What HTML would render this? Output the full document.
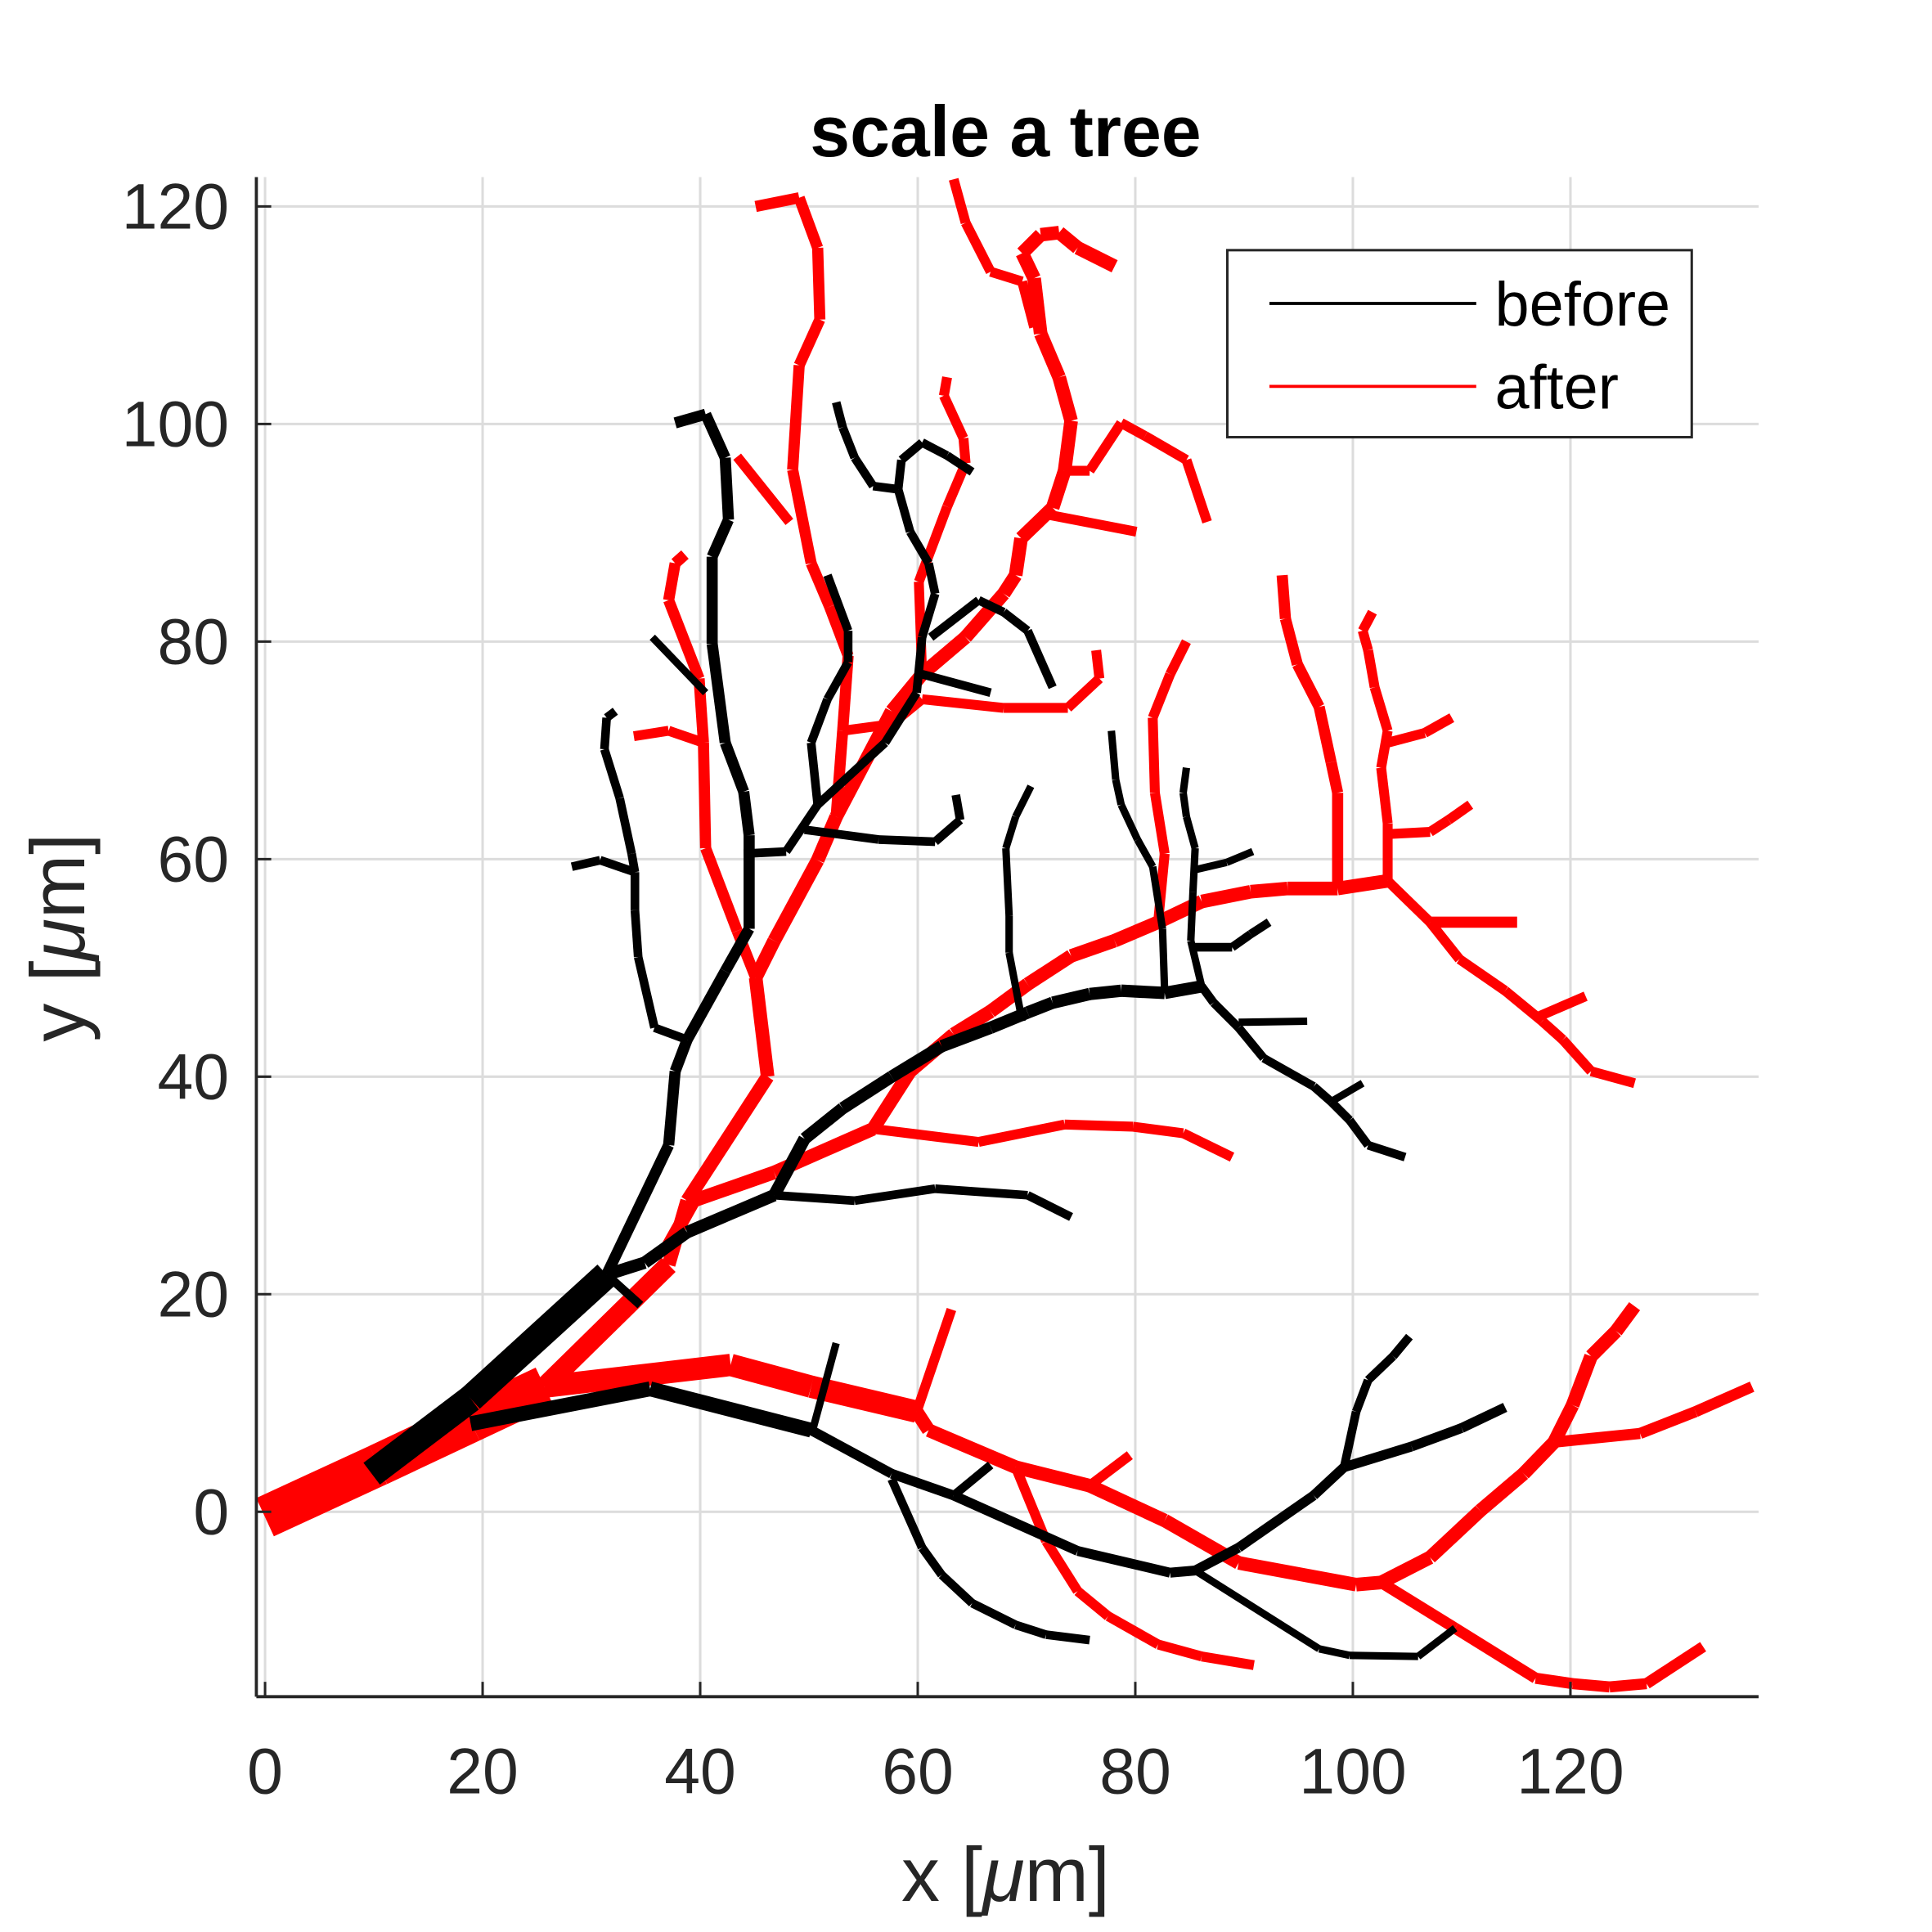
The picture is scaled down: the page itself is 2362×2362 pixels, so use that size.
<!DOCTYPE html>
<html><head><meta charset="utf-8"><style>
html,body{margin:0;padding:0;background:#fff;}
svg{display:block;}
text{font-family:"Liberation Sans",Arial,sans-serif;}
</style></head><body>
<svg id="chart" width="2362" height="2362" viewBox="0 0 1560 1560" xmlns="http://www.w3.org/2000/svg">
<rect x="0" y="0" width="1560" height="1560" fill="#fff"/>
<g id="grid"></g>
<g id="red"></g>
<g id="black"></g>
<g id="axes"></g>
<text x="812" y="126" text-anchor="middle" font-size="58" font-weight="bold" fill="#000">scale a tree</text>
<text x="812" y="1535" text-anchor="middle" font-size="62" fill="#262626">x [<tspan font-style="italic">μ</tspan>m]</text>
<text transform="translate(68,757) rotate(-90)" text-anchor="middle" font-size="62" fill="#262626">y [<tspan font-style="italic">μ</tspan>m]</text>
<g>
<rect x="991" y="202" width="375" height="151" fill="#fff" stroke="#262626" stroke-width="2"/>
<line x1="1025" y1="245" x2="1192" y2="245" stroke="#000" stroke-width="2.5"/>
<text x="1207" y="263" font-size="50" fill="#000">before</text>
<line x1="1025" y1="312" x2="1192" y2="312" stroke="#f00" stroke-width="2.5"/>
<text x="1207" y="330" font-size="50" fill="#000">after</text>
</g>
</svg>
<script>
const xTicks=[0,20,40,60,80,100,120];
const yTicks=[0,20,40,60,80,100,120];
const xDomain=[-0.8,137.3];
const yDomain=[-17.0,122.7];
const blackWidths=[22,9,7,7,6,7,7,7,7,10,7,7,7,6,6,6,7,7,6,6,6,12,8,6,7,7,7,6,7];
const blackBranches=[
[[9.8,3.5],[18.9,10.4],[31.4,21.8]],
[[31.4,21.8],[37.1,33.7],[37.7,40.5],[38.8,43.4],[42.3,49.7],[44.5,53.6],[44.5,62.2],[44.0,66.2],[42.3,70.7],[41.1,79.8],[41.1,87.8],[42.6,91.2],[42.3,96.9],[40.5,100.9],[37.7,100.1]],
[[38.8,43.4],[35.8,44.5],[34.3,51.0],[34.0,55.3],[34.0,58.8],[33.7,60.5],[32.6,65.6],[31.2,70.1],[31.4,73.0],[32.2,73.6]],
[[34.0,58.8],[30.8,59.9],[28.2,59.3]],
[[35.6,80.4],[40.5,75.3]],
[[44.0,60.5],[47.9,60.7],[50.8,65.0],[57.0,70.7],[59.9,75.3],[60.4,80.4],[61.6,84.4],[61.0,87.2],[59.3,90.1],[58.2,94.0],[55.9,94.3],[54.2,96.9],[53.1,99.7],[52.5,102.0]],
[[58.2,94.0],[58.5,96.7],[60.4,98.3],[62.7,97.1],[65.0,95.6]],
[[60.4,77.0],[66.7,75.3]],
[[61.2,80.4],[65.6,83.8],[67.9,82.7],[70.1,81.0],[72.4,75.8]],
[[31.4,21.8],[34.9,22.9],[38.8,25.7],[46.8,29.1],[49.6,34.3],[53.1,37.1],[57.6,40.0],[62.2,42.8],[66.7,44.5],[70.1,45.9],[72.4,46.8],[75.8,47.6],[78.7,47.9],[82.7,47.7],[86.1,48.3]],
[[50.8,65.0],[50.2,70.7],[51.7,74.7],[53.6,78.1],[53.6,81.0],[51.7,86.1]],
[[49.6,62.7],[56.4,61.8],[61.6,61.6],[63.9,63.6],[63.5,65.9]],
[[46.8,29.1],[54.2,28.6],[61.6,29.7],[70.1,29.1],[74.1,27.1]],
[[82.7,47.7],[82.5,53.6],[81.6,59.3],[80.2,61.8],[78.7,65.0],[78.2,67.3],[77.8,71.8]],
[[86.1,48.3],[85.1,52.5],[85.3,57.0],[85.5,61.0],[84.7,63.9],[84.4,66.1],[84.7,68.4]],
[[85.4,59.0],[88.4,59.7],[90.8,60.7]],
[[85.1,51.9],[88.9,51.9],[90.6,53.1],[92.3,54.2]],
[[86.1,48.3],[87.2,46.8],[89.5,44.5],[91.8,41.7],[96.4,39.1],[98.0,37.7],[99.7,36.0],[101.4,33.7],[104.8,32.6]],
[[89.5,45.0],[95.8,45.1]],
[[98.0,37.7],[100.9,39.4]],
[[69.6,45.1],[68.4,51.4],[68.4,54.8],[68.1,61.0],[69.0,63.9],[70.4,66.7]],
[[18.9,8.1],[35.4,11.3],[50.2,7.5]],
[[50.2,7.5],[57.6,3.5],[63.3,1.5],[74.7,-3.6],[83.2,-5.6],[85.5,-5.4],[89.5,-3.3],[96.4,1.5],[99.2,4.1],[105.4,6.0],[110,7.7],[114,9.6]],
[[50.2,7.0],[52.5,15.5]],
[[63.3,1.5],[66.7,4.3]],
[[57.6,3.0],[60.4,-3.3],[62.2,-5.8],[65.0,-8.4],[69.0,-10.4],[71.8,-11.3],[75.8,-11.8]],
[[99.2,4.1],[100.3,9.2],[101.4,12.1],[103.7,14.3],[105.2,16.1]],
[[85.5,-5.4],[96.9,-12.6],[99.7,-13.2],[106,-13.3],[109.4,-10.7]],
[[31.4,21.8],[34.5,19.0]]
];
const redWidths=[34,16,11,11,8,8,9,8,8,9,8,8,8,9,8,9,8,8,8,8,8,18,11,8,9,9,8,8,8];
const redBranches=[
[[0,-0.5],[10.4,4.3],[18.9,8.3],[25.7,11.5]],
[[25.7,11.5],[37.1,22.7]],
[[37.1,22.7],[38.8,28.6],[46.2,40.0],[45.1,49.1],[46.8,52.5],[50.8,59.9],[52.5,63.9],[57.6,73.6],[60.4,77.0],[64.4,80.4],[67.9,84.4],[69.0,86.1],[69.5,89.5],[72.4,92.3],[73.5,95.7],[74.1,100.3],[73.0,104.3],[71.3,108.3],[70.7,113.4],[69.6,115.7],[71.3,117.4],[73.0,117.6],[74.7,116.2],[78.1,114.5]],
[[37.1,24.5],[39.4,28.6],[46.8,31.2],[55.9,35.2],[59.3,40.5],[63.3,43.9],[66.7,46.0],[70.1,48.5],[74.1,51.1],[78.1,52.5],[82.1,54.2],[86.1,56.1],[90.6,57.0],[94.0,57.3],[98.6,57.3],[103.2,58.0]],
[[55.9,35.2],[65.6,34.0],[73.5,35.6],[79.8,35.4],[84.4,34.8],[88.9,32.6]],
[[82.1,54.2],[82.7,60.5],[81.8,66.1],[81.6,73.0],[83.2,77.0],[84.7,80.0]],
[[98.6,57.3],[98.6,66.1],[98.0,68.9],[96.9,74.0],[94.9,77.9],[93.8,82.1],[93.5,86.1]],
[[103.2,58.0],[107.1,54.2],[109.8,50.8],[114.0,47.9],[117.4,45.1],[119.3,43.4],[121.9,40.5],[125.9,39.4]],
[[117.0,45.5],[121.4,47.4]],
[[107.1,54.2],[115.1,54.2]],
[[103.2,58.0],[103.2,63.3],[102.6,68.4],[103.2,71.8],[102.0,75.8],[101.4,79.2],[100.9,81.0],[101.8,82.7]],
[[103.2,70.7],[106.6,71.6],[109.1,73.0]],
[[103.2,62.3],[107.1,62.5],[108.8,63.6],[110.8,65.0]],
[[45.1,49.1],[43.4,53.4],[40.5,61.0],[40.3,70.7],[39.9,76.6],[37.1,83.8],[37.7,87.2],[38.6,88.0]],
[[40.3,70.7],[37.1,71.8],[33.9,71.3]],
[[52.5,63.9],[53.1,71.8],[53.6,78.7],[51.9,83.2],[50.2,87.2],[48.5,95.8],[49.1,105.4],[51.0,109.6],[50.8,116.2],[49.1,120.8],[45.1,120]],
[[48.2,91.0],[43.4,97.0]],
[[53.1,71.8],[57.6,72.4],[60.4,74.7],[67.9,73.9],[73.8,73.9],[76.7,76.6],[76.4,79.2]],
[[60.4,77.0],[60.1,85.5],[62.7,92.4],[64.4,96.4],[64.2,98.7],[62.4,102.6],[62.7,104.3]],
[[71.8,91.7],[80.1,90.1]],
[[73.5,95.7],[75.8,95.7],[78.7,100.1],[80.9,98.9],[84.7,96.7],[86.6,91.0]],
[[25.7,11.5],[42.8,13.5],[50.2,11.5],[59.9,9.2]],
[[59.9,9.2],[61.0,7.5],[69.0,4.1],[75.8,2.4],[82.7,-0.8],[89.5,-4.7],[100.3,-6.7],[102.6,-6.5],[107.1,-4.2],[111.7,0.1],[115.7,3.5],[118.5,6.4],[120.2,9.8],[121.9,14.3],[124.2,16.6],[125.9,18.9]],
[[59.9,9.2],[63.1,18.6]],
[[118.5,6.4],[126.4,7.2],[131.5,9.2],[136.7,11.5]],
[[102.6,-6.5],[109.4,-10.7],[116.8,-15.3],[120.2,-15.8],[123.6,-16.1],[127.0,-15.8],[132.2,-12.4]],
[[69.0,4.1],[71.8,-2.7],[74.7,-7.3],[77.5,-9.6],[82.1,-12.2],[86.1,-13.3],[90.9,-14.1]],
[[75.8,2.4],[79.5,5.2]],
[[63.3,122.5],[64.4,118.5],[66.7,114.0],[69.6,113.1],[70.7,108.9]]
];
const L=207,R=1420,T=143,B=1370;
function sx(v){return L+(v-xDomain[0])/(xDomain[1]-xDomain[0])*(R-L);}
function sy(v){return B-(v-yDomain[0])/(yDomain[1]-yDomain[0])*(B-T);}
const NS='http://www.w3.org/2000/svg';
function mk(tag,attrs,parent){const e=document.createElementNS(NS,tag);for(const k in attrs)e.setAttribute(k,attrs[k]);parent.appendChild(e);return e;}
const grid=document.getElementById('grid'),axes=document.getElementById('axes');
xTicks.forEach(t=>{
  const g=mk('line',{x1:sx(t),x2:sx(t),y1:T,y2:B,stroke:'#dcdcdc','stroke-width':2},grid);
  
  
  const tk=mk('line',{x1:sx(t),x2:sx(t),y1:B,y2:B-12,stroke:'#262626','stroke-width':2},axes);
  
  
  const tx=mk('text',{x:sx(t),y:B+78,'text-anchor':'middle','font-size':52,fill:'#262626'},axes);
  tx.textContent=t;
  
  
});
yTicks.forEach(t=>{
  const g=mk('line',{x1:L,x2:R,y1:sy(t),y2:sy(t),stroke:'#dcdcdc','stroke-width':2},grid);
  
  
  const tk=mk('line',{x1:L,x2:L+12,y1:sy(t),y2:sy(t),stroke:'#262626','stroke-width':2},axes);
  
  
  const tx=mk('text',{x:L-22,y:sy(t)+18,'text-anchor':'end','font-size':52,fill:'#262626'},axes);
  tx.textContent=t;
  
  
});
const ax1=mk('line',{x1:L,x2:L,y1:T,y2:B,stroke:'#262626','stroke-width':2.5},axes);


const ax2=mk('line',{x1:L,x2:R,y1:B,y2:B,stroke:'#262626','stroke-width':2.5},axes);


function draw(branches,widths,color,gid,name){
  const g=document.getElementById(gid);
  branches.forEach((br,i)=>{
    for(let j=0;j<br.length-1;j++){
      const s=mk('line',{x1:sx(br[j][0]),y1:sy(br[j][1]),x2:sx(br[j+1][0]),y2:sy(br[j+1][1]),stroke:color,'stroke-width':widths[i],'stroke-linecap':'butt'},g);
      
      
    }
  });
}
draw(redBranches,redWidths,'#ff0000','red','after-segment');
draw(blackBranches,blackWidths,'#000000','black','before-segment');
</script>
</body></html>
